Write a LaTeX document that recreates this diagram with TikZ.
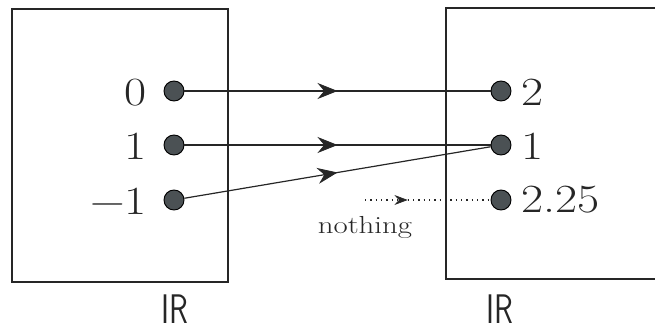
\documentclass[tikz,border=0pt]{standalone}
\usetikzlibrary{arrows.meta,decorations.markings}
\definecolor{dotgray}{HTML}{4B5154}
\definecolor{ink}{HTML}{262626}
\newcommand{\bignum}[1]{\scalebox{1.2}[1]{\fontsize{30}{36}\selectfont #1}}
\newcommand{\smalltxt}[1]{\scalebox{1.25}[1]{\fontsize{18.5}{22}\selectfont #1}}
\newcommand{\setR}{\scalebox{0.75}[1]{\fontsize{31}{36}\selectfont\textsf{IR}}}
\begin{document}
\begin{tikzpicture}[x=0.75pt,y=-0.75pt,
  box/.style={draw=ink,line width=1.1pt},
  pt/.style={circle,draw=black,line width=0.7pt,fill=dotgray,minimum size=15pt,inner sep=0pt},
  lab/.style={inner sep=0pt,text=ink},
  conn/.style={draw=ink,line width=0.9pt},
  midarrow/.style={postaction={decorate},decoration={markings,mark=at position #1 with {\arrow[fill=dotgray,draw=ink,line width=0.6pt]{Stealth[length=15pt,width=12pt,inset=5pt]}}}},
  dotarrow/.style={postaction={decorate},decoration={markings,mark=at position #1 with {\arrow[fill=ink,draw=ink,line width=0.5pt]{Stealth[length=10pt,width=7.5pt,inset=3.5pt]}}}},
  dotline/.style={draw=ink,line width=1pt,dash pattern=on 1pt off 3pt}]
\useasboundingbox (0,0) rectangle (655,331);
\begin{scope}
  \clip (0,0) rectangle (655,331);
  \draw[box] (12,9) rectangle (228,282);
  \draw[box] (446,8) rectangle (680,279);
\end{scope}
% left points
\node[pt] (l0) at (174,91) {};
\node[pt] (l1) at (174,145) {};
\node[pt] (lm1) at (174,200) {};
\node[lab,anchor=east] (t0) at (147,93) {\bignum{0}};
\node[lab,anchor=east] (t1) at (147,146) {\bignum{1}};
\node[lab,anchor=east] (tm1) at (147,201) {\bignum{−1}};
% right points
\node[pt] (r2) at (501,91) {};
\node[pt] (r1) at (501,145) {};
\node[pt] (r225) at (501,200) {};
\node[lab,anchor=west] (u2) at (521,92) {\bignum{2}};
\node[lab,anchor=west] (u1) at (521,146) {\bignum{1}};
\node[lab,anchor=west] (u225) at (521,200) {\bignum{2.25}};
% connectors
\draw[conn,midarrow=0.5] (l0) -- (r2);
\draw[conn,midarrow=0.5] (l1) -- (r1);
\draw[conn,midarrow=0.5] (lm1) -- (r1);
\coordinate (ns) at (365,200);
\draw[dotline,dotarrow=0.34] (ns) -- (r225);
\node[lab] (nothing) at (365,227) {\smalltxt{nothing}};
% set labels
\node[lab] (RL) at (174.5,309) {\setR};
\node[lab] (RR) at (499.5,309) {\setR};
\end{tikzpicture}
\end{document}
